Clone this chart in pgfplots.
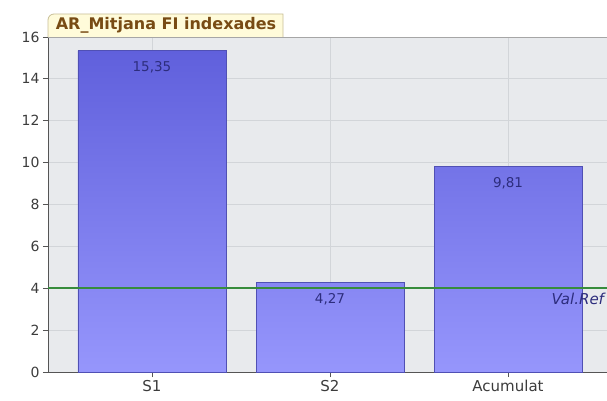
\documentclass[border=0pt]{standalone}
\usepackage{fontspec}
\setmainfont{DejaVu Sans}
\usepackage{pgfplots}
\pgfplotsset{compat=1.18}

\definecolor{bgc}{RGB}{232,234,237}
\definecolor{gridc}{RGB}{210,213,217}
\definecolor{bartop}{RGB}{96,96,220}
\definecolor{barbot}{RGB}{150,150,252}
\definecolor{bardraw}{RGB}{80,80,180}
\definecolor{valc}{RGB}{45,45,125}
\definecolor{refc}{RGB}{55,140,60}
\definecolor{titlec}{RGB}{120,75,20}
\definecolor{titlebg}{RGB}{255,251,218}
\definecolor{titleframe}{RGB}{200,190,150}
\definecolor{tickc}{RGB}{60,60,60}
\definecolor{axisc}{RGB}{85,85,85}

\begin{document}
\begin{tikzpicture}[x=1pt,y=1pt]
\useasboundingbox (0,0) rectangle (607,400);
\clip (0,0) rectangle (607,400);
\begin{axis}[
  at={(48pt,28pt)}, anchor=south west,
  scale only axis, width=564pt, height=335pt,
  xmin=-0.584, xmax=2.584, ymin=0, ymax=16,
  ytick={0,2,...,16},
  xtick={0,1,2}, xticklabels={S1,S2,Acumulat},
  axis lines*=left,
  axis line style={axisc, line width=1pt},
  axis background/.style={fill=bgc},
  grid=major, grid style={gridc, line width=0.8pt},
  tick align=outside, major tick length=5pt,
  tick style={axisc, line width=0.8pt},
  /pgf/number format/assume math mode=true,
  yticklabel style={font=\fontsize{14}{16}\selectfont, text=tickc},
  xticklabel style={font=\fontsize{15}{17}\selectfont, text=tickc},
  nodes near coords,
  point meta=y,
  every node near coord/.append style={anchor=north, yshift=-7pt, font=\fontsize{13.5}{15}\selectfont, text=valc,
    /pgf/number format/fixed, /pgf/number format/fixed zerofill, /pgf/number format/precision=2, /pgf/number format/use comma},
  clip=true,
]
\addplot[ybar, bar width=148pt, draw=bardraw, line width=0.8pt, top color=bartop, bottom color=barbot]
  coordinates {(0,15.35) (1,4.27) (2,9.81)};
\draw[refc, line width=1.6pt] (axis cs:-0.584,4) -- (axis cs:2.584,4);
\node[anchor=west, text=valc, font=\itshape\fontsize{15}{17}\selectfont] at (axis cs:2.225,3.5) {Val.Ref};
\draw[gray!70, line width=0.8pt] (rel axis cs:0,1) -- (rel axis cs:1,1);
\end{axis}
\draw[fill=titlebg, draw=titleframe, line width=0.8pt]
  (48,363) -- (48,380) to[out=90,in=180] (54,386) -- (283,386) -- (283,363);
\node[text=titlec, font=\bfseries\fontsize{16}{18}\selectfont] at (166,374.5) {AR\_Mitjana FI indexades};
\end{tikzpicture}
\end{document}
